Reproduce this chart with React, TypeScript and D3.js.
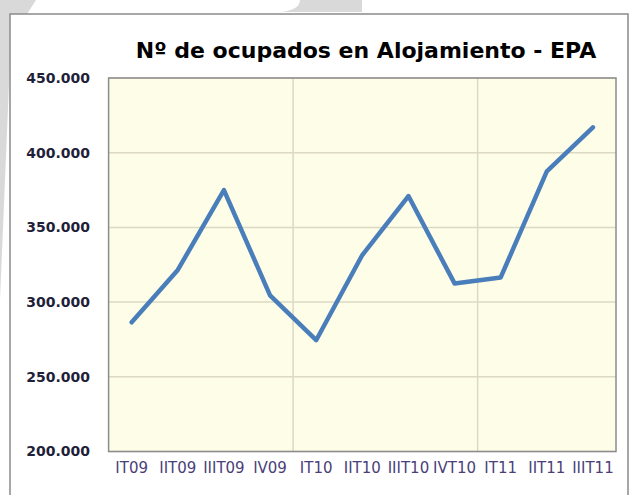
import React from "react";
import * as d3 from "d3";

// Trimestres EPA
const quarters = ["IT09", "IIT09", "IIIT09", "IV09", "IT10", "IIT10", "IIIT10", "IVT10", "IT11", "IIT11", "IIIT11"];
// Ocupados en alojamiento
const employed = [286500, 321500, 375000, 304500, 274500, 331500, 371000, 312500, 316500, 387500, 417000];
const yTicks = [200000, 250000, 300000, 350000, 400000, 450000];
// year boundaries (index of first quarter of each new year)
const yearStarts = [4, 8];

const title = "Nº de ocupados  en Alojamiento - EPA";

const W = 630;
const H = 495;
const margin = { top: 78, right: 14, bottom: 43.5, left: 108.6 };

const fmt = (v: number) => d3.format(",")(v).replace(/,/g, ".");

export default function App() {
  const x = d3
    .scaleBand<string>()
    .domain(quarters)
    .range([margin.left, W - margin.right]);
  const y = d3
    .scaleLinear()
    .domain([200000, 450000])
    .range([H - margin.bottom, margin.top]);

  const line = d3
    .line<number>()
    .x((_, i) => (x(quarters[i]) as number) + x.bandwidth() / 2)
    .y((d) => y(d));

  const left = margin.left;
  const right = W - margin.right;
  const top = margin.top;
  const bottom = H - margin.bottom;

  return (
    <svg
      width={W}
      height={H}
      style={{ position: "absolute", left: 0, top: 0, background: "#fff" }}
    >
      {/* background shapes from the page behind the chart */}
      <path d="M0,0 L36,0 L27,14 L10,14 L10,60 L0,300 Z" fill="#d9d9d9" />
      <path d="M300,0 L362,0 L362,12 L280,12 Q300,10 300,0 Z" fill="#d9d9d9" />

      {/* chart frame */}
      <rect x={10} y={14} width={618} height={H} fill="#fff" stroke="#8a8a8a" strokeWidth={1.5} />

      <text
        x={366}
        y={58}
        textAnchor="middle"
        fontFamily="DejaVu Sans"
        fontWeight="bold"
        fontSize={22}
        fill="#000"
      >
        {title}
      </text>

      {/* plot area */}
      <rect x={left} y={top} width={right - left} height={bottom - top} fill="#fefee8" />

      {yTicks.map((t) => (
        <line key={t} x1={left} x2={right} y1={y(t)} y2={y(t)} stroke="#dcd8c4" strokeWidth={1.5} />
      ))}
      {yearStarts.map((i) => (
        <line
          key={i}
          x1={x(quarters[i]) as number}
          x2={x(quarters[i]) as number}
          y1={top}
          y2={bottom}
          stroke="#dcd8c4"
          strokeWidth={1.5}
        />
      ))}

      <rect
        x={left}
        y={top}
        width={right - left}
        height={bottom - top}
        fill="none"
        stroke="#8c8c8c"
        strokeWidth={1.5}
      />

      <path
        d={line(employed) as string}
        fill="none"
        stroke="#4a7ebb"
        strokeWidth={4.5}
        strokeLinejoin="round"
        strokeLinecap="round"
      />

      {yTicks.map((t) => (
        <text
          key={t}
          x={90}
          y={y(t)}
          dy="0.35em"
          textAnchor="end"
          fontFamily="DejaVu Sans"
          fontWeight="bold"
          fontSize={14}
          fill="#1f1f3a"
        >
          {fmt(t)}
        </text>
      ))}

      {quarters.map((q) => (
        <text
          key={q}
          x={(x(q) as number) + x.bandwidth() / 2}
          y={473}
          textAnchor="middle"
          fontFamily="DejaVu Sans"
          fontSize={15}
          fill="#4a3f78"
        >
          {q}
        </text>
      ))}
    </svg>
  );
}
